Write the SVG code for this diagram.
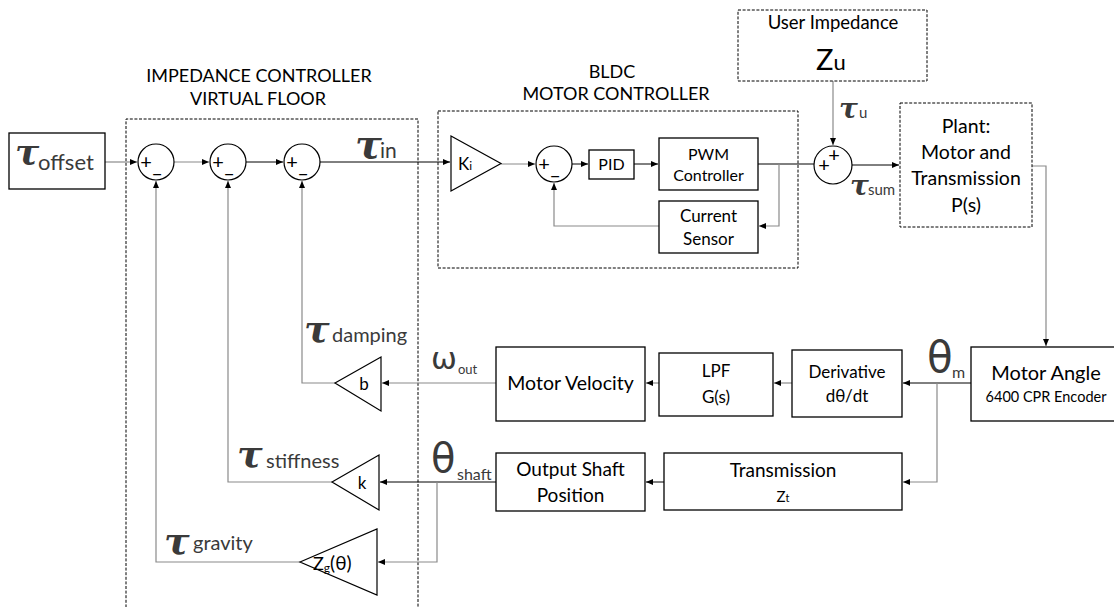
<svg xmlns="http://www.w3.org/2000/svg" width="1114" height="607" viewBox="0 0 1114 607">
<defs>
<marker id="ah" markerUnits="userSpaceOnUse" markerWidth="8" markerHeight="7" refX="7" refY="3.5" orient="auto">
<path d="M0,0.5 L7,3.5 L0,6.5 z" fill="#000"/>
</marker>
<style>
.box{fill:#fff;stroke:#000;stroke-width:1.3}
.dash{fill:none;stroke:#000;stroke-width:1;stroke-dasharray:3 1.6}
.dbox{fill:#fff;stroke:#000;stroke-width:1;stroke-dasharray:3 1.6}
.tri{fill:#fff;stroke:#000;stroke-width:1.2}
.sum{fill:#fff;stroke:#000;stroke-width:1.2}
.ln{fill:none;stroke:#000;stroke-width:1}
.gl{fill:none;stroke:#8a8a8a;stroke-width:1.2}
.t{font-family:Lato,"DejaVu Sans",sans-serif;fill:#000}
.c{text-anchor:middle}
.tau{font-family:"DejaVu Serif",serif;font-style:italic;font-weight:bold;fill:#3a3a3a}
.gr{font-family:"DejaVu Sans",sans-serif;fill:#3a3a3a}
.sub{font-family:Lato,"DejaVu Sans",sans-serif;fill:#3a3a3a}
.sg{font-family:Lato,"DejaVu Sans",sans-serif;font-size:20px;fill:#000}
</style>
</defs>

<!-- group frames -->
<g id="impedance-controller">
<path class="dash" d="M126,612 V119 H418 V612"/>
<text class="t c" x="259" y="82" font-size="18">IMPEDANCE CONTROLLER</text>
<text class="t c" x="258" y="105" font-size="18">VIRTUAL FLOOR</text>
</g>
<g id="bldc-controller">
<rect class="dash" x="438" y="111" width="360" height="157"/>
<text class="t c" x="612" y="78" font-size="18">BLDC</text>
<text class="t c" x="616" y="100" font-size="18">MOTOR CONTROLLER</text>
</g>

<g id="connectors">
<path class="gl" d="M105,162 H137" marker-end="url(#ah)"/>
<path class="gl" d="M174,162 H209" marker-end="url(#ah)"/>
<path class="ln" d="M246,162 H283" marker-end="url(#ah)"/>
<path class="ln" d="M320,162 H450" marker-end="url(#ah)"/>
<path class="gl" d="M501,164 H535" marker-end="url(#ah)"/>
<path class="ln" d="M572,164 H588" marker-end="url(#ah)"/>
<path class="ln" d="M634,164 H658" marker-end="url(#ah)"/>
<path class="ln" d="M758,164 H814"/>
<path class="gl" d="M779,164 V226 H759" marker-end="url(#ah)"/>
<path class="gl" d="M659,226 H554 V183" marker-end="url(#ah)"/>
<path class="gl" d="M833,81 V145" marker-end="url(#ah)"/>
<path class="ln" d="M852,165 H899" marker-end="url(#ah)"/>
<path class="gl" d="M1032,166 H1046 V346" marker-end="url(#ah)"/>
<path class="ln" d="M971,383 H903" marker-end="url(#ah)"/>
<path class="gl" d="M937,383 V482 H903" marker-end="url(#ah)"/>
<path class="gl" d="M792,383 H774" marker-end="url(#ah)"/>
<path class="gl" d="M659,383 H646" marker-end="url(#ah)"/>
<path class="gl" d="M496,383 H382" marker-end="url(#ah)"/>
<path class="gl" d="M335,383 H302 V181" marker-end="url(#ah)"/>
<path class="ln" d="M664,482 H646" marker-end="url(#ah)"/>
<path class="ln" d="M496,482 H380" marker-end="url(#ah)"/>
<path class="gl" d="M437,482 V562 H378" marker-end="url(#ah)"/>
<path class="gl" d="M332,482 H228 V181" marker-end="url(#ah)"/>
<path class="gl" d="M300,562 H156 V181" marker-end="url(#ah)"/>
</g>

<g id="tau-offset">
<rect class="box" x="9" y="133" width="96" height="56"/>
<text class="tau" x="15" y="164" font-size="36">τ</text>
<text class="sub" x="38" y="170" font-size="22">offset</text>
</g>

<g id="sum1">
<circle class="sum" cx="156" cy="162" r="18"/>
<text class="sg c" x="146" y="169">+</text>
<text class="sg c" x="157" y="172">_</text>
</g>
<g id="sum2">
<circle class="sum" cx="228" cy="162" r="18"/>
<text class="sg c" x="218" y="169">+</text>
<text class="sg c" x="229" y="172">_</text>
</g>
<g id="sum3">
<circle class="sum" cx="302" cy="162" r="18"/>
<text class="sg c" x="292" y="169">+</text>
<text class="sg c" x="303" y="172">_</text>
</g>

<g id="tau-in">
<text class="tau" x="355" y="158" font-size="40">τ</text>
<text class="sub" x="380" y="158" font-size="21">in</text>
</g>

<g id="ki">
<polygon class="tri" points="451,136 451,191 501,163.5"/>
<text class="t" x="458" y="170" font-size="17">K<tspan font-size="12">i</tspan></text>
</g>
<g id="sum4">
<circle class="sum" cx="554" cy="164" r="18"/>
<text class="sg c" x="544" y="171">+</text>
<text class="sg c" x="555" y="174">_</text>
</g>
<g id="pid">
<rect class="box" x="589" y="150" width="45" height="29"/>
<text class="t c" x="611.5" y="170" font-size="16">PID</text>
</g>
<g id="pwm">
<rect class="box" x="659" y="138" width="99" height="52"/>
<text class="t c" x="708.5" y="160" font-size="16">PWM</text>
<text class="t c" x="708.5" y="181" font-size="16">Controller</text>
</g>
<g id="current-sensor">
<rect class="box" x="659" y="201" width="99" height="52"/>
<text class="t c" x="708.5" y="222" font-size="17">Current</text>
<text class="t c" x="708.5" y="245" font-size="17">Sensor</text>
</g>

<g id="user-impedance">
<rect class="dbox" x="738" y="10" width="189" height="71"/>
<text class="t c" x="833" y="29" font-size="18.5">User Impedance</text>
<text class="t" x="816" y="70" font-size="29">Z<tspan font-size="22">u</tspan></text>
</g>
<g id="tau-u">
<text class="tau" x="839" y="118" font-size="28">τ</text>
<text class="sub" x="859" y="118" font-size="15">u</text>
</g>
<g id="sum5">
<circle class="sum" cx="833" cy="165" r="19"/>
<text class="sg c" x="824" y="172">+</text>
<text class="sg c" x="834" y="162">+</text>
</g>
<g id="tau-sum">
<text class="tau" x="850" y="195" font-size="28">τ</text>
<text class="sub" x="868" y="195" font-size="15">sum</text>
</g>
<g id="plant">
<rect class="dbox" x="900" y="103" width="132" height="124"/>
<text class="t c" x="966" y="133" font-size="19.5">Plant:</text>
<text class="t c" x="966" y="159" font-size="19.5">Motor and</text>
<text class="t c" x="966" y="185" font-size="19.5">Transmission</text>
<text class="t c" x="966" y="212" font-size="19.5">P(s)</text>
</g>

<g id="motor-angle">
<rect class="box" x="971" y="347" width="150" height="74"/>
<text class="t c" x="1046" y="380" font-size="20">Motor Angle</text>
<text class="t c" x="1046" y="402" font-size="14.5">6400 CPR Encoder</text>
</g>
<g id="theta-m">
<text class="gr" x="927" y="372" font-size="42">θ</text>
<text class="sub" x="952" y="378" font-size="16">m</text>
</g>
<g id="derivative">
<rect class="box" x="792" y="350" width="110" height="67"/>
<text class="t c" x="847" y="378" font-size="17">Derivative</text>
<text class="t c" x="847" y="402" font-size="17">dθ/dt</text>
</g>
<g id="lpf">
<rect class="box" x="659" y="353" width="114" height="63"/>
<text class="t c" x="716" y="377" font-size="17">LPF</text>
<text class="t c" x="716" y="403" font-size="17">G(s)</text>
</g>
<g id="motor-velocity">
<rect class="box" x="496" y="347" width="149" height="74"/>
<text class="t c" x="570.5" y="390" font-size="19.5">Motor Velocity</text>
</g>
<g id="omega-out">
<text class="gr" x="431" y="369" font-size="31">ω</text>
<text class="sub" x="458" y="374" font-size="13">out</text>
</g>
<g id="b-gain">
<polygon class="tri" points="335,383 381,357 381,411"/>
<text class="t c" x="364" y="390" font-size="17">b</text>
</g>
<g id="tau-damping">
<text class="tau" x="304" y="342" font-size="38">τ</text>
<text class="sub" x="332" y="342" font-size="20">damping</text>
</g>

<g id="transmission">
<rect class="box" x="664" y="453" width="238" height="57"/>
<text class="t c" x="783" y="477" font-size="19">Transmission</text>
<text class="t c" x="783" y="502" font-size="15">Z<tspan font-size="11">t</tspan></text>
</g>
<g id="output-shaft">
<rect class="box" x="496" y="453" width="149" height="58"/>
<text class="t c" x="570.5" y="476" font-size="19">Output Shaft</text>
<text class="t c" x="570.5" y="502" font-size="19">Position</text>
</g>
<g id="theta-shaft">
<text class="gr" x="431" y="472" font-size="40">θ</text>
<text class="sub" x="457" y="480" font-size="16">shaft</text>
</g>
<g id="k-gain">
<polygon class="tri" points="332,482 379,455 379,510"/>
<text class="t c" x="362" y="489" font-size="17">k</text>
</g>
<g id="tau-stiffness">
<text class="tau" x="237" y="467" font-size="38">τ</text>
<text class="sub" x="266" y="468" font-size="20">stiffness</text>
</g>
<g id="zg-gain">
<polygon class="tri" points="300,562 377,529 377,595"/>
<text class="t" x="313" y="570" font-size="18">Z<tspan font-size="12" dy="2">g</tspan><tspan font-size="19" dy="-2">(θ)</tspan></text>
</g>
<g id="tau-gravity">
<text class="tau" x="164" y="554" font-size="38">τ</text>
<text class="sub" x="193" y="550" font-size="20">gravity</text>
</g>
</svg>
